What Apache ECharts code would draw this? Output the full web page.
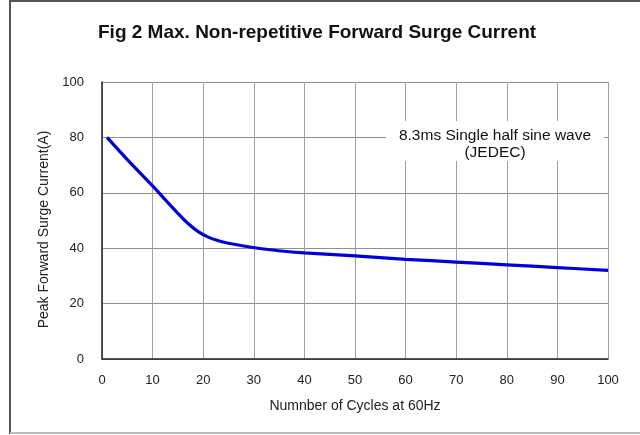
<!DOCTYPE html>
<html>
<head>
<meta charset="utf-8">
<script src="https://cdn.jsdelivr.net/npm/echarts@6/dist/echarts.min.js"></script>
<style>
html,body{margin:0;padding:0;background:#fff;}
#chart{width:640px;height:435px;}
</style>
</head>
<body>
<div id="chart"></div>
<script>
const titleText = 'Fig 2 Max. Non-repetitive Forward Surge Current';
const xAxisName = 'Numnber of Cycles at 60Hz';
const yAxisName = 'Peak Forward Surge Current(A)';
const noteLines = ['8.3ms Single half sine wave', '(JEDEC)'];
const cycles = [1, 5, 10, 13, 15, 17, 19, 21, 23, 25, 28, 32, 36, 40, 50, 60, 70, 80, 90, 100];
const surgeCurrent = [80, 72, 62.5, 56.5, 52.6, 48.9, 46, 44, 42.7, 41.8, 40.8, 39.7, 38.9, 38.3, 37.2, 36, 35, 34, 33, 32];

const chart = echarts.init(document.getElementById('chart'), null, {renderer: 'canvas'});
const font = 'Liberation Sans, Arial, sans-serif';
chart.setOption({
  animation: false,
  backgroundColor: '#fff',
  textStyle: {fontFamily: font},
  title: {
    text: titleText,
    left: 93, top: 18,
    textStyle: {fontFamily: font, fontSize: 19, fontWeight: 'bold', color: '#111'}
  },
  grid: {left: 102, right: 32, top: 82, bottom: 76, containLabel: false},
  xAxis: {
    type: 'value', min: 0, max: 100, interval: 10,
    name: xAxisName, nameLocation: 'middle', nameGap: 40,
    nameTextStyle: {fontFamily: font, fontSize: 14, color: '#222'},
    axisLine: {show: true, lineStyle: {color: '#222', width: 1.5}},
    axisTick: {show: false},
    axisLabel: {fontFamily: font, fontSize: 13, color: '#222', margin: 15},
    splitLine: {show: true, lineStyle: {color: '#a0a0a0', width: 1}}
  },
  yAxis: {
    type: 'value', min: 0, max: 100, interval: 20,
    name: yAxisName, nameLocation: 'middle', nameGap: 50, nameRotate: 90,
    nameTextStyle: {fontFamily: font, fontSize: 14, color: '#222', padding: [0, 18, 0, 0]},
    axisLine: {show: true, lineStyle: {color: '#222', width: 1.5}},
    axisTick: {show: false},
    axisLabel: {fontFamily: font, fontSize: 13, color: '#222', margin: 18},
    splitLine: {show: true, lineStyle: {color: '#909090', width: 1}}
  },
  series: [{
    type: 'line',
    data: cycles.map((c, i) => [c, surgeCurrent[i]]),
    smooth: 0.4,
    showSymbol: false,
    lineStyle: {color: '#0000dd', width: 3.2},
    z: 5
  }],
  graphic: [
    {type: 'rect', shape: {x: 10, y: 1, width: 640, height: 432}, style: {fill: 'none', stroke: '#555', lineWidth: 2}, silent: true, z: 100},
    {type: 'line', shape: {x1: 10, y1: 433, x2: 640, y2: 433}, style: {stroke: '#bbb', lineWidth: 2}, silent: true, z: 101},
    {type: 'rect', shape: {x: 386, y: 121, width: 218, height: 40}, style: {fill: '#fff'}, silent: true, z: 50},
    {type: 'text', x: 495, y: 127, style: {text: noteLines.join('\n'), fontFamily: font, fontSize: 15.5, fill: '#111', align: 'center', lineHeight: 17}, silent: true, z: 51}
  ]
});
</script>
</body>
</html>
